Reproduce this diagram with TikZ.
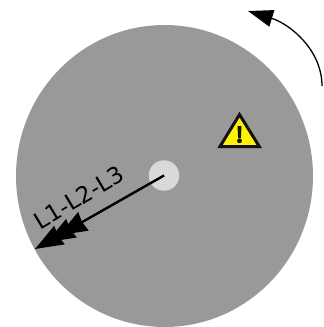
\documentclass[tikz,border=0pt]{standalone}
\usepackage{fontspec}
\setmainfont{DejaVu Sans}
\usetikzlibrary{arrows.meta,shapes.geometric,calc}
\tikzset{
  disc/.style={draw=none,fill=discgray,ellipse,minimum width=297pt,minimum height=302pt,inner sep=0pt},
  hub/.style={draw=none,fill=hubgray,circle,minimum size=30.5pt,inner sep=0pt},
  phase/.style={font=\fontsize{23pt}{25pt}\selectfont,text=black,inner sep=0pt,rotate=31},
  phaseline/.style={line width=2pt,-{Stealth[length=28pt,width=21pt,inset=1.5pt]}},
  rot/.style={line width=1.3pt,-{Stealth[length=25pt,width=17pt,inset=0pt]}},
  warn/.style={draw=warnblack,fill=warnyellow,line width=3pt,line join=miter}
}
\definecolor{discgray}{HTML}{999999}
\definecolor{hubgray}{HTML}{D9D9D9}
\definecolor{warnyellow}{HTML}{FFF200}
\definecolor{warnblack}{HTML}{111111}
\begin{document}
\begin{tikzpicture}[x=1pt,y=-1pt]
\useasboundingbox (0,0) rectangle (324,327);
\node[disc] (disc) at (164.5,176) {};
\node[hub] (hub) at (164,175.5) {};
\coordinate (tipa) at (35,249);
\coordinate (tipb) at (47,242.1);
\coordinate (tipc) at (59,235.2);
\draw[phaseline] (hub.center) -- (tipc);
\draw[phaseline] (hub.center) -- (tipb);
\draw[phaseline] (hub.center) -- (tipa);
\node[phase] (label) at (79,197.5) {L1-L2-L3};
\coordinate (rotstart) at (322,86);
\coordinate (rottip) at (248,11);
\draw[rot] (rotstart) .. controls (322,50) and (290,24) .. (rottip);
\draw[warn] (239.5,114.6) -- (259.3,146.5) -- (220,146.5) -- cycle;
\fill[warnblack] (237.5,126) -- (241.5,126) -- (240.9,138) -- (238.1,138) -- cycle;
\fill[warnblack] (239.5,140.8) circle (2.4);
\end{tikzpicture}
\end{document}
